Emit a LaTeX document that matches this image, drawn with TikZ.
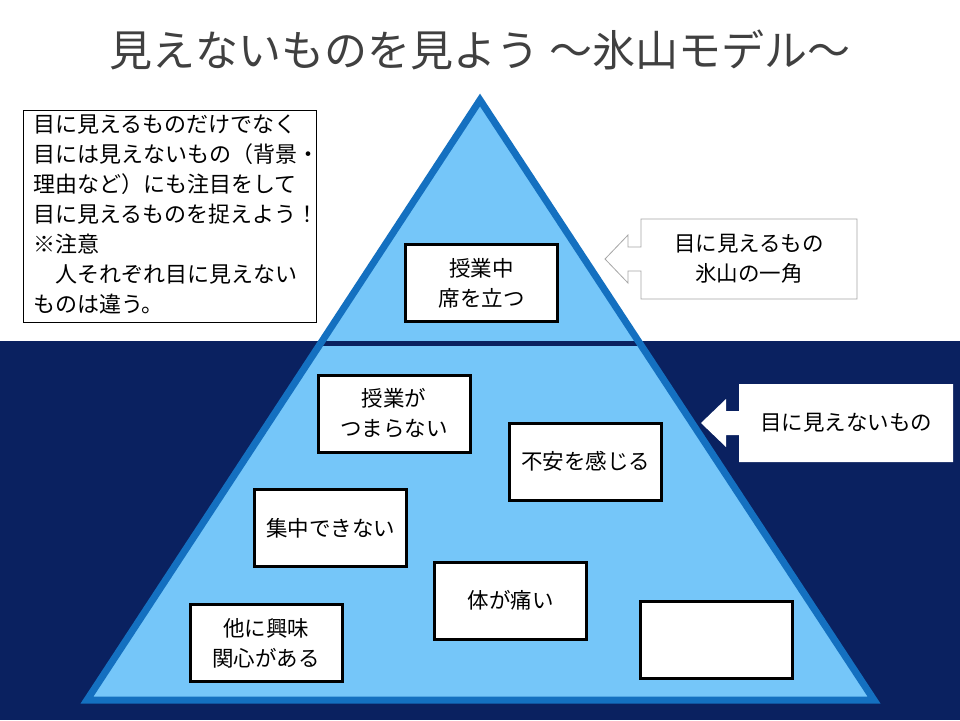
\documentclass[tikz,border=0pt]{standalone}
\usepackage{fontspec}
\setmainfont{Noto Sans CJK JP}
\definecolor{navy}{HTML}{0A2160}
\definecolor{tri}{HTML}{75C6F9}
\definecolor{triedge}{HTML}{1470C0}
\begin{document}
\begin{tikzpicture}[x=1pt,y=-1pt,
  cell/.style={draw=black,line width=3pt,fill=white,minimum width=152pt,minimum height=77pt,align=center,font=\fontsize{21.5}{30}\selectfont,inner sep=0pt},
  callout/.style={fill=white,draw=gray!70,line width=0.8pt}]
\useasboundingbox (0,0) rectangle (960,720);
\fill[white] (0,0) rectangle (960,720);
\fill[navy] (0,341) rectangle (960,720);
\fill[tri] (480,100) -- (87,700) -- (874,700) -- cycle;
\begin{scope}
\clip (480,100) -- (87,700) -- (874,700) -- cycle;
\draw[navy,line width=5pt] (0,343) -- (960,343);
\end{scope}
\draw[triedge,line width=7pt,line join=miter] (480,100) -- (87,700) -- (874,700) -- cycle;
\node[font=\fontsize{43}{48}\selectfont,text=black!75] (title) at (480,50) {見えないものを見よう ～氷山モデル～};
\node[draw=black,line width=0.8pt,fill=white,minimum width=293pt,minimum height=212pt,inner sep=0pt] (note) at (169.5,216) {};
\node[anchor=north west,align=left,font=\fontsize{22}{30}\selectfont,inner sep=0pt] (notetext) at (33,115) {目に見えるものだけでなく\\目には見えないもの（背景・\\理由など）にも注目をして\\目に見えるものを捉えよう！\\※注意\\\hspace{1em}人それぞれ目に見えない\\ものは違う。};
\node[cell] (a) at (481.5,283) {授業中\\席を立つ};
\node[cell] (b) at (394,413.5) {授業が\\つまらない};
\node[cell] (c) at (585.5,461.5) {不安を感じる};
\node[cell] (d) at (330.5,528) {集中できない};
\node[cell] (e) at (510.5,600.5) {体が痛い};
\node[cell] (f) at (266,643) {他に興味\\関心がある};
\node[cell] (g) at (716,640) {};
\draw[callout] (857,219) -- (641,219) -- (641,247) -- (628,247) -- (628,235) -- (605,259) -- (628,283) -- (628,271) -- (641,271) -- (641,299) -- (857,299) -- cycle;
\node[font=\fontsize{21.5}{30}\selectfont,align=center] (vis) at (749,259) {目に見えるもの\\氷山の一角};
\fill[white] (953,384) -- (739,384) -- (739,411) -- (726,411) -- (726,399) -- (701,423) -- (726,447) -- (726,435) -- (739,435) -- (739,462) -- (953,462) -- cycle;
\node[font=\fontsize{21.5}{30}\selectfont] (invis) at (846,423) {目に見えないもの};
\end{tikzpicture}
\end{document}
